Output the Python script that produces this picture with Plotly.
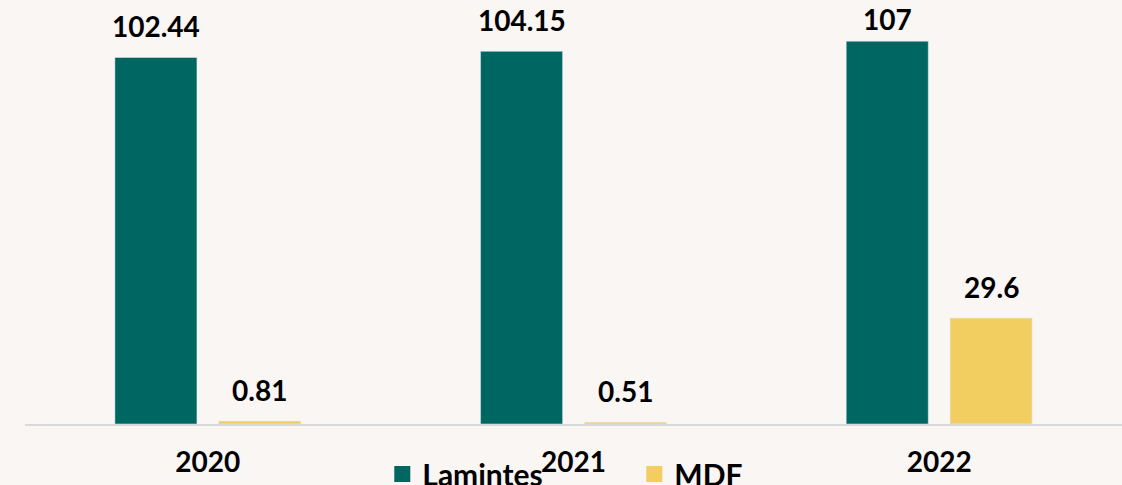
import plotly.graph_objects as go

years = ["2020", "2021", "2022"]
laminates = [102.44, 104.15, 107]
mdf = [0.81, 0.51, 29.6]
laminates_labels = ["102.44", "104.15", "107"]
mdf_labels = ["0.81", "0.51", "29.6"]

TEAL = "#006661"
YELLOW = "#F2CD60"
BG = "#F9F6F4"
FONT = "Lato"
YMAX = 118.5
PLOT_H = 424

fig = go.Figure()
fig.add_trace(go.Bar(x=years, y=laminates, marker_color=TEAL, showlegend=False, name="Lamintes"))
fig.add_trace(go.Bar(x=years, y=mdf, marker_color=YELLOW, showlegend=False, name="MDF"))
# legend proxies
fig.add_trace(go.Scatter(x=[years[0]], y=[None], mode="markers", name="Lamintes",
                         marker=dict(symbol="square", size=18, color=TEAL)))
fig.add_trace(go.Scatter(x=[years[0]], y=[None], mode="markers", name="MDF",
                         marker=dict(symbol="square", size=18, color=YELLOW)))

lab_font = dict(family=FONT, size=28, color="black", weight="bold")


def label_shift(v):
    # keep labels inside the top edge of the chart
    room = PLOT_H - v * PLOT_H / YMAX - 19
    return min(31, room)


for i, (v, lab) in enumerate(zip(laminates, laminates_labels)):
    fig.add_annotation(x=i, y=v, text=lab, xshift=-52, yshift=label_shift(v),
                       showarrow=False, font=lab_font)
for i, (v, lab) in enumerate(zip(mdf, mdf_labels)):
    fig.add_annotation(x=i, y=v, text=lab, xshift=52, yshift=label_shift(v),
                       showarrow=False, font=lab_font)

fig.update_layout(
    width=1122, height=485,
    margin=dict(l=25, r=0, t=0, b=61, autoexpand=False),
    paper_bgcolor=BG, plot_bgcolor=BG,
    barmode="group", bargap=0.432, bargroupgap=0.21,
    font=lab_font,
    legend=dict(orientation="h", x=0.3257, xanchor="left", y=-0.118, yanchor="middle",
                bgcolor="rgba(0,0,0,0)", entrywidth=207, itemsizing="trace",
                font=dict(family=FONT, size=30, color="black", weight="bold")),
    xaxis=dict(type="category", categoryorder="array", categoryarray=years,
               range=[-0.5, 2.5],
               showline=True, linecolor="#D9D9D9", linewidth=2, ticks="",
               tickfont=lab_font, ticklabelstandoff=12, showgrid=False, automargin=False),
    yaxis=dict(range=[0, YMAX], visible=False, showgrid=False, zeroline=False, automargin=False),
)

fig.write_html("out.html", config={"displayModeBar": False},
               post_script="document.body.style.margin='0';document.body.style.overflow='hidden';")
